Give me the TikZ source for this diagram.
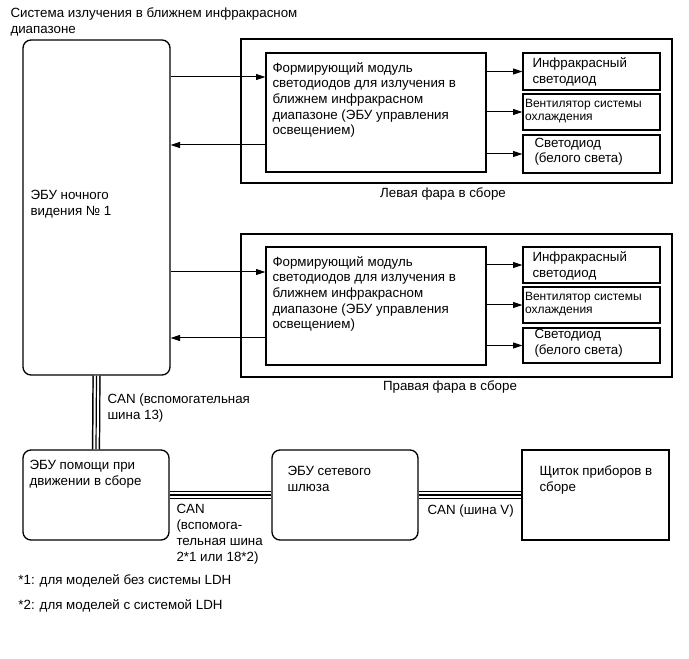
\documentclass[tikz,border=0pt]{standalone}
\usepackage{fontspec}
\setmainfont{Liberation Sans}
\usetikzlibrary{arrows.meta,fit}

\tikzset{every picture/.style={line width=0.75pt}}

\begin{document}
\begin{tikzpicture}[
    x=0.75pt,
    y=0.75pt,
    yscale=-1,
    xscale=1,
    box/.style={draw, line width=1pt, inner sep=0pt},
    rbox/.style={box, rounded corners=6pt},
    txt/.style={anchor=base west, inner sep=0pt, align=left, font=\fontsize{10}{11.8}\selectfont},
    small/.style={txt, font=\fontsize{9}{9.8}\selectfont},
    arr/.style={-{Triangle[length=7pt,width=4.5pt]}},
    can/.style={line width=0.9pt, preaction={draw, line width=6.2pt}, preaction={draw=white, line width=4pt}}
]
    \useasboundingbox (0,0) rectangle (689,659);

    % base anchor sits on the last line
    \node[txt] (title) at (10,33.5) {Система излучения в ближнем инфракрасном\\диапазоне};

    % night vision ecu
    \node[rbox, fit={(23,40) (170,375)}] (nv) {};
    \node[txt] (nvtxt) at (30,215.5) {ЭБУ ночного\\видения № 1};

    % left headlamp
    \node[box, fit={(241,39) (672,183)}] (lhl) {};
    \node[box, fit={(266,53) (486,172)}] (lmod) {};
    \node[box, fit={(523,53) (660,90)}] (lir) {};
    \node[box, fit={(523,94) (660,130)}] (lfan) {};
    \node[box, fit={(523,135) (660,173)}] (lled) {};
    \node[txt] (lmodtxt) at (272,135) {Формирующий модуль\\светодиодов для излучения в\\ближнем инфракрасном\\диапазоне (ЭБУ управления\\освещением)};
    \node[txt] (lirtxt) at (532,83.5) {Инфракрасный\\светодиод};
    \node[small] (lfantxt) at (524.5,120.5) {Вентилятор системы\\охлаждения};
    \node[txt] (lledtxt) at (534,163) {Светодиод\\(белого света)};
    \node[txt, anchor=base] (lhltxt) at (443,198) {Левая фара в сборе};

    % right headlamp
    \node[box, fit={(241,234) (672,377)}] (rhl) {};
    \node[box, fit={(266,247) (486,365)}] (rmod) {};
    \node[box, fit={(523,247) (660,283)}] (rir) {};
    \node[box, fit={(523,287) (660,323)}] (rfan) {};
    \node[box, fit={(523,328) (660,363)}] (rled) {};
    \node[txt] (rmodtxt) at (272,329) {Формирующий модуль\\светодиодов для излучения в\\ближнем инфракрасном\\диапазоне (ЭБУ управления\\освещением)};
    \node[txt] (rirtxt) at (532,277.5) {Инфракрасный\\светодиод};
    \node[small] (rfantxt) at (524.5,313.5) {Вентилятор системы\\охлаждения};
    \node[txt] (rledtxt) at (534,354) {Светодиод\\(белого света)};
    \node[txt, anchor=base] (rhltxt) at (450,390) {Правая фара в сборе};

    % bottom ecus
    \node[rbox, fit={(23,450) (169,540)}] (adas) {};
    \node[txt] (adastxt) at (29,485) {ЭБУ помощи при\\движении в сборе};
    \node[rbox, fit={(272,450) (418,540)}] (gw) {};
    \node[txt] (gwtxt) at (287,491) {ЭБУ сетевого\\шлюза};
    \node[box, fit={(522,450) (669,540)}] (meter) {};
    \node[txt] (metertxt) at (539,491) {Щиток приборов в\\сборе};

    % signals
    \draw[arr] (nv.east |- 0,77) -- (lmod.west |- 0,77);
    \draw[arr] (lmod.west |- 0,145) -- (nv.east |- 0,145);
    \draw[arr] (lmod.east |- lir) -- (lir);
    \draw[arr] (lmod.east |- lfan) -- (lfan);
    \draw[arr] (lmod.east |- lled) -- (lled);

    \draw[arr] (nv.east |- 0,272) -- (rmod.west |- 0,272);
    \draw[arr] (rmod.west |- 0,338) -- (nv.east |- 0,338);
    \draw[arr] (rmod.east |- rir) -- (rir);
    \draw[arr] (rmod.east |- rfan) -- (rfan);
    \draw[arr] (rmod.east |- rled) -- (rled);

    % can lines
    \draw[can] (nv.south) -- (adas.north);
    \draw[can] (adas.east) -- (gw.west);
    \draw[can] (gw.east) -- (meter.west);
    \node[txt] (can13) at (107,419) {CAN (вспомогательная\\шина 13)};
    \node[txt] (can2) at (176,561) {CAN\\(вспомога-\\тельная шина\\2*1 или 18*2)};
    \node[txt] (canv) at (427,514) {CAN (шина V)};

    \node[txt] (note1) at (18,584) {*1: для моделей без системы LDH};
    \node[txt] (note2) at (18,609) {*2: для моделей с системой LDH};
\end{tikzpicture}
\end{document}
